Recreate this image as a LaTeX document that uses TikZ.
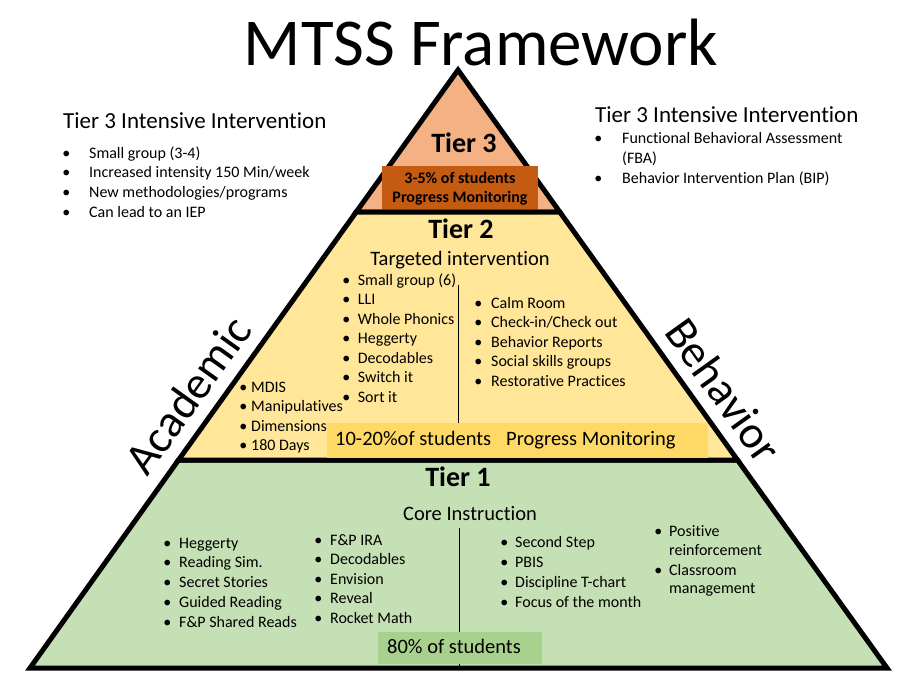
\documentclass[tikz,border=0pt]{standalone}
\usepackage{fontspec}
\setmainfont{Carlito}[Ligatures=NoCommon]
\usepackage{xcolor}
\definecolor{tierthree}{HTML}{F4B183}
\definecolor{tiertwo}{HTML}{FFE699}
\definecolor{tierone}{HTML}{C5E0B4}
\definecolor{monthree}{HTML}{C55A11}
\definecolor{montwo}{HTML}{FFD966}
\definecolor{monone}{HTML}{A9D18E}
\newcommand{\blt}[1]{\makebox[#1][l]{\textbullet}}

\begin{document}
\begin{tikzpicture}[
  x=1pt, y=-1pt,
  tier/.style={draw=black, line width=5pt, line join=miter},
  tiername/.style={font=\fontsize{28}{30}\selectfont\bfseries, anchor=base, inner sep=0pt},
  subtitle/.style={font=\fontsize{20.5}{24}\selectfont, anchor=base, inner sep=0pt},
  heading/.style={font=\fontsize{23}{26}\selectfont, anchor=base west, inner sep=0pt},
  listitem/.style={font=\fontsize{16}{19}\selectfont, anchor=base west, inner sep=0pt},
  side/.style={font=\fontsize{46}{50}\selectfont, anchor=base, inner sep=0pt},
]
\fill [white] (0,0) rectangle (909,693);
\useasboundingbox (0,0) rectangle (909,693);

\node [anchor=base, inner sep=0pt, font=\fontsize{67}{70}\selectfont] (title) at (481,65) {MTSS Framework};

% pyramid
\draw [tier, fill=tierone] (178.5,460) -- (737.5,460) -- (887,668) -- (30,668) -- cycle;
\draw [tier, fill=tierthree] (458,70) -- (559.8,212) -- (356.2,212) -- cycle;
\node [fill=monthree, minimum width=156pt, minimum height=46pt, inner sep=0pt, align=center,
  font=\fontsize{16}{19}\selectfont\bfseries] (mon3) at (460,189) {3-5\% of students\\Progress Monitoring};
\draw [tier, fill=tiertwo] (356.2,212) -- (559.8,212) -- (737.5,460) -- (178.5,460) -- cycle;

% dividers
\draw (458,285) -- (458,423);
\draw (459,528) -- (459,666);

\fill [montwo] (327,423) rectangle (708,458);
\node [subtitle, anchor=base west] (mon2) at (335,445) {10-20\%of students\hspace{15pt}Progress Monitoring};
\fill [monone] (378,632) rectangle (542,664);
\node [subtitle, anchor=base west] (mon1) at (387,653) {80\% of students};

% tier names
\node [tiername] (t3) at (464,152) {Tier 3};
\node [tiername] (t2) at (461,238) {Tier 2};
\node [subtitle] (t2sub) at (460,265) {Targeted intervention};
\node [tiername] (t1) at (458,486) {Tier 1};
\node [subtitle] (t1sub) at (470,520) {Core Instruction};

% sides
\node [side, rotate=54.4] (acad) at (200.7,404.1) {Academic};
\node [side, rotate=-54.4] (behav) at (711.1,399.2) {Behavior};

% tier 3 notes
\node [heading] (acad3) at (63,128) {Tier 3 Intensive Intervention};
\foreach \txt [count=\i] in {Small group (3-4), Increased intensity 150 Min/week, New methodologies/programs, Can lead to an IEP}
  \node [listitem] (acad3-\i) at (62.2,{158+19.7*(\i-1)}) {\blt{26.8pt}\txt};
\node [heading] (behav3) at (595,122) {Tier 3 Intensive Intervention};
\node [listitem] (behav3-1) at (594.2,143) {\blt{27.8pt}Functional Behavioral Assessment};
\node [listitem] (behav3-1b) at (622,163) {(FBA)};
\node [listitem] (behav3-2) at (594.2,183) {\blt{27.8pt}Behavior Intervention Plan (BIP)};

% tier 2 lists
\foreach \txt [count=\i] in {MDIS, Manipulatives, Dimensions, 180 Days}
  \node [listitem] (acad2a-\i) at (239.2,{392+19.6*(\i-1)}) {\blt{11.8pt}\txt};
\foreach \txt [count=\i] in {Small group (6), LLI, Whole Phonics, Heggerty, Decodables, Switch it, Sort it}
  \node [listitem] (acad2b-\i) at (342.2,{285+19.5*(\i-1)}) {\blt{15.5pt}\txt};
\foreach \txt [count=\i] in {Calm Room, Check-in/Check out, Behavior Reports, Social skills groups, Restorative Practices}
  \node [listitem] (behav2-\i) at (474.2,{308+19.5*(\i-1)}) {\blt{16.8pt}\txt};

% tier 1 lists
\foreach \txt [count=\i] in {Heggerty, Reading Sim., Secret Stories, Guided Reading, F\&P Shared Reads}
  \node [listitem] (acad1a-\i) at (163.2,{548+19.75*(\i-1)}) {\blt{15.8pt}\txt};
\foreach \txt [count=\i] in {F\&P IRA, Decodables, Envision, Reveal, Rocket Math}
  \node [listitem] (acad1b-\i) at (314.2,{545+19.5*(\i-1)}) {\blt{15.8pt}\txt};
\foreach \txt [count=\i] in {Second Step, PBIS, Discipline T-chart, Focus of the month}
  \node [listitem] (behav1a-\i) at (500.2,{547+20*(\i-1)}) {\blt{14.8pt}\txt};
\node [listitem] (behav1b-1) at (654.2,536) {\blt{14.8pt}Positive};
\node [listitem] (behav1b-1b) at (669,555) {reinforcement};
\node [listitem] (behav1b-2) at (654.2,575) {\blt{14.8pt}Classroom};
\node [listitem] (behav1b-2b) at (669,593) {management};
\end{tikzpicture}
\end{document}
